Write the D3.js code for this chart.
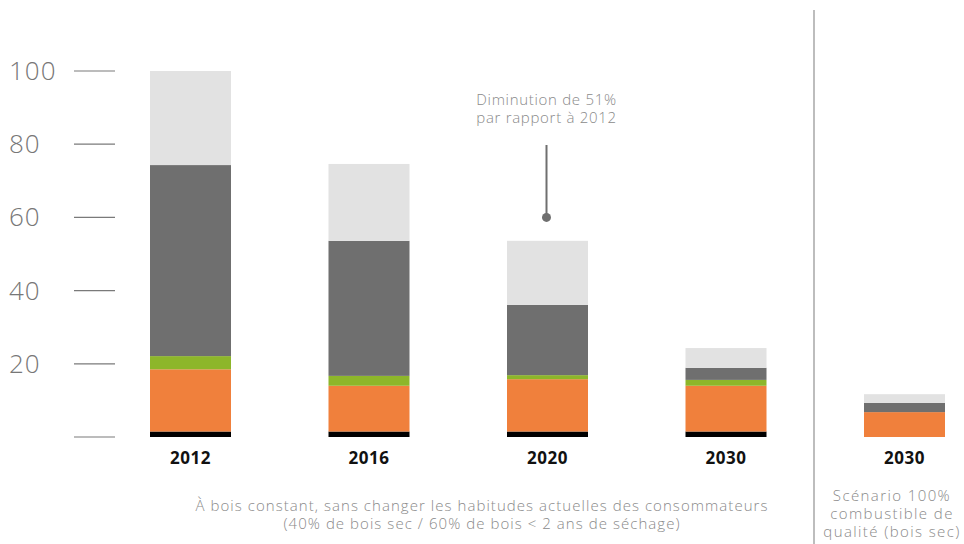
<!DOCTYPE html>
<html lang="fr">

<head>
  <meta charset="UTF-8">
  <title>bois de chauffage</title>
  <script src="https://d3js.org/d3.v7.min.js"></script>
  <style>
    body { margin: 0; background: #fff; }
    text { font-family: "Open Sans", "DejaVu Sans", sans-serif; }
  </style>
</head>

<body>
  <svg id="chart" width="964" height="544"></svg>

  <script>
    // data, bottom to top
    const categories = ["2012", "2016", "2020", "2030", "2030b"];
    const catLabels = ["2012", "2016", "2020", "2030", "2030"];
    const blackVals = [1.5, 1.5, 1.5, 1.5, 0];
    const orangeVals = [17.0, 12.5, 14.3, 12.5, 6.8];
    const greenVals = [3.6, 2.7, 1.1, 1.6, 0];
    const darkVals = [52.2, 36.9, 19.2, 3.3, 2.5];
    const lightVals = [25.7, 21.0, 17.5, 5.4, 2.4];
    const yTicks = [0, 20, 40, 60, 80, 100];

    const seriesKeys = ["black", "orange", "green", "dark", "light"];
    const seriesColors = { black: "#000000", orange: "#f0803c", green: "#8db62a", dark: "#6f6f6f", light: "#e2e2e2" };

    const rows = categories.map((c, i) => ({
      cat: c, black: blackVals[i], orange: orangeVals[i], green: greenVals[i], dark: darkVals[i], light: lightVals[i]
    }));

    const svg = d3.select("#chart");

    const x = d3.scalePoint().domain(categories).range([101.25, 993.75]).padding(0.5);
    const y = d3.scaleLinear().domain([0, 100]).range([437, 71]);
    const barW = 81;

    // y axis: tick lines + labels
    const yAxis = svg.append("g");
    yAxis.selectAll("line").data(yTicks).join("line")
      .attr("x1", 74).attr("x2", 115)
      .attr("y1", d => y(d)).attr("y2", d => y(d))
      .attr("stroke", "#7a7a7a").attr("stroke-width", 1.2);
    yAxis.selectAll("text").data(yTicks.filter(d => d > 0)).join("text")
      .attr("x", 9).attr("y", d => y(d) + 9)
      .attr("font-size", 26).attr("font-weight", 300)
      .attr("letter-spacing", 1)
      .attr("fill", "#777")
      .text(d => d);

    // stacked bars
    const stack = d3.stack().keys(seriesKeys)(rows);
    svg.append("g").selectAll("g").data(stack).join("g")
      .attr("fill", d => seriesColors[d.key])
      .selectAll("rect").data(d => d.filter(p => p[1] - p[0] > 0)).join("rect")
      .attr("x", d => x(d.data.cat) - barW / 2)
      .attr("width", barW)
      .attr("y", d => y(d[1]))
      .attr("height", d => y(d[0]) - y(d[1]));

    // category labels
    svg.append("g").selectAll("text").data(categories).join("text")
      .attr("x", d => x(d)).attr("y", 464)
      .attr("text-anchor", "middle")
      .attr("font-size", 17).attr("font-weight", 700)
      .attr("letter-spacing", 0.5)
      .attr("fill", "#111")
      .text((d, i) => catLabels[i]);

    // separator for the scenario bar
    svg.append("line")
      .attr("x1", 814).attr("x2", 814).attr("y1", 10).attr("y2", 544)
      .attr("stroke", "#bdbdbd").attr("stroke-width", 2);

    // annotation 2020
    const ax = x("2020") - 1;
    svg.append("line")
      .attr("x1", ax).attr("x2", ax).attr("y1", 145).attr("y2", y(60))
      .attr("stroke", "#6f6f6f").attr("stroke-width", 2);
    svg.append("circle").attr("cx", ax).attr("cy", y(60)).attr("r", 4.5).attr("fill", "#6f6f6f");
    const note = svg.append("text").attr("text-anchor", "middle")
      .attr("font-size", 15).attr("font-weight", 300).attr("fill", "#8a8a8a")
      .attr("letter-spacing", 0.7);
    note.append("tspan").attr("x", ax).attr("y", 105).text("Diminution de 51%");
    note.append("tspan").attr("x", ax).attr("y", 123).text("par rapport à 2012");

    // footnotes
    const foot = svg.append("text").attr("text-anchor", "middle")
      .attr("font-size", 15).attr("font-weight", 300).attr("fill", "#8a8a8a")
      .attr("letter-spacing", 1.05);
    foot.append("tspan").attr("x", 482).attr("y", 511).text("À bois constant, sans changer les habitudes actuelles des consommateurs");
    foot.append("tspan").attr("x", 482).attr("y", 529).text("(40% de bois sec / 60% de bois < 2 ans de séchage)");

    const foot2 = svg.append("text").attr("text-anchor", "middle")
      .attr("font-size", 15).attr("font-weight", 300).attr("fill", "#8a8a8a")
      .attr("letter-spacing", 1.4);
    foot2.append("tspan").attr("x", 892).attr("y", 501).text("Scénario 100%");
    foot2.append("tspan").attr("x", 892).attr("y", 519).text("combustible de");
    foot2.append("tspan").attr("x", 892).attr("y", 537).text("qualité (bois sec)");
  </script>

</body>

</html>
